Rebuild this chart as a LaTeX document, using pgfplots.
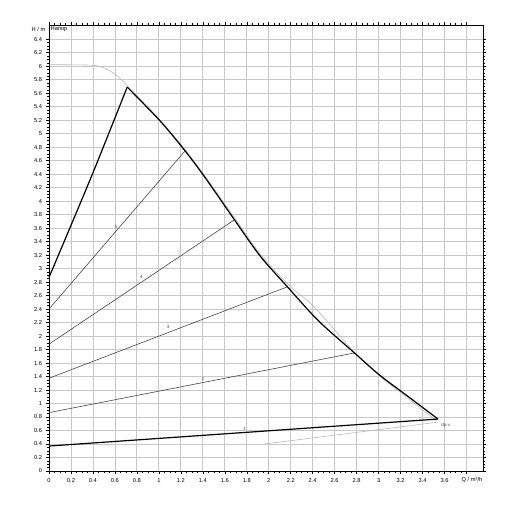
\documentclass[border=0pt]{standalone}
\usepackage{pgfplots}
\pgfplotsset{compat=1.18}
\usepackage{fontspec}
\setmainfont{Liberation Sans}
\usetikzlibrary{calc}
\definecolor{gridc}{RGB}{200,200,200}
\definecolor{ctl}{RGB}{70,70,70}
\definecolor{maxg}{RGB}{185,185,185}
\begin{document}
\begin{tikzpicture}
\begin{axis}[
  name=ax,
  scale only axis,
  width=434pt, height=446pt,
  xmin=0, xmax=3.95, ymin=0, ymax=6.61,
  xtick={0,0.2,0.4,0.6,0.8,1,1.2,1.4,1.6,1.8,2,2.2,2.4,2.6,2.8,3,3.2,3.4,3.6,3.8},
  xticklabels={0,0.2,0.4,0.6,0.8,1,1.2,1.4,1.6,1.8,2,2.2,2.4,2.6,2.8,3,3.2,3.4,3.6,},
  ytick={0,0.2,0.4,0.6,0.8,1,1.2,1.4,1.6,1.8,2,2.2,2.4,2.6,2.8,3,3.2,3.4,3.6,3.8,4,4.2,4.4,4.6,4.8,5,5.2,5.4,5.6,5.8,6,6.2,6.4},
  minor x tick num=3, minor y tick num=3,
  tick align=outside,
  major tick length=3pt, minor tick length=2pt,
  tick style={black, line width=0.5pt},
  grid=major,
  major grid style={gridc, line width=0.8pt},
  axis line style={black, line width=0.8pt},
  tick label style={font=\fontsize{5.7}{6}\selectfont},
  /pgf/number format/assume math mode=true,
  xticklabel style={yshift=-1pt},
  yticklabel style={xshift=-0.5pt},
  clip=false,
]
% max pump curve (grey)
\addplot[maxg, line width=0.6pt, smooth, tension=0.5] coordinates {
(0,6.02) (0.2,6.02) (0.42,6.01) (0.52,5.96) (0.6,5.88) (0.66,5.8) (0.712,5.71)
(1.01,5.2) (1.24,4.76) (1.43,4.35) (1.69,3.75) (1.93,3.2) (2.2,2.73) (2.37,2.5)
(2.52,2.24) (2.78,1.76) (3.03,1.38) (3.25,1.1) (3.46,0.83) (3.52,0.75)};
\addplot[maxg, line width=0.6pt] coordinates {(1.96,0.40) (3.52,0.72)};
% control lines
\addplot[ctl, line width=0.6pt] coordinates {(0,0.865) (2.78,1.75)};
\addplot[ctl, line width=0.6pt] coordinates {(0,1.375) (2.17,2.73)};
\addplot[ctl, line width=0.6pt] coordinates {(0,1.88) (1.685,3.72)};
\addplot[ctl, line width=0.6pt] coordinates {(0,2.40) (1.236,4.74)};
\addplot[black, line width=1.2pt] coordinates {(0,0.37) (3.54,0.77)};
% max curve (black)
\addplot[black, line width=1.2pt, smooth, tension=0.5] coordinates {
(0,2.87) (0.2,3.64) (0.42,4.5) (0.712,5.69)};
\addplot[black, line width=1.2pt, smooth, tension=0.5] coordinates {
(0.712,5.69) (1.01,5.19) (1.236,4.75)
(1.42,4.35) (1.685,3.73) (1.92,3.19) (2.17,2.73) (2.45,2.23) (2.78,1.75) (3.01,1.42) (3.28,1.09) (3.54,0.77)};
% labels
\node[font=\fontsize{4.5}{5}\selectfont, text=ctl] at (axis cs:1.78,0.62) {1};
\node[font=\fontsize{4.5}{5}\selectfont, text=ctl] at (axis cs:1.40,1.37) {2};
\node[font=\fontsize{4.5}{5}\selectfont, text=ctl] at (axis cs:1.085,2.13) {3};
\node[font=\fontsize{4.5}{5}\selectfont, text=ctl] at (axis cs:0.84,2.87) {4};
\node[font=\fontsize{4.5}{5}\selectfont, text=ctl] at (axis cs:0.61,3.62) {5};
\node[font=\fontsize{4.5}{5}\selectfont, text=ctl, anchor=west] at (axis cs:3.54,0.68) {dp-v};
\node[font=\fontsize{5.7}{6}\selectfont, anchor=north west, inner sep=1.5pt] at (rel axis cs:0,1) {Напор};
\node[font=\fontsize{5.7}{6}\selectfont, anchor=east, inner sep=0pt] at ($(axis cs:0,6.55)+(-3.5pt,0)$) {H / m};
\node[font=\fontsize{5.7}{6}\selectfont, anchor=north, inner sep=0pt] at ($(axis cs:3.85,0)+(0,-6.5pt)$) {Q / m³/h};
\end{axis}
\path ($(ax.south west)+(-49pt,-37pt)$) rectangle ($(ax.north east)+(25pt,25pt)$);
\end{tikzpicture}
\end{document}
